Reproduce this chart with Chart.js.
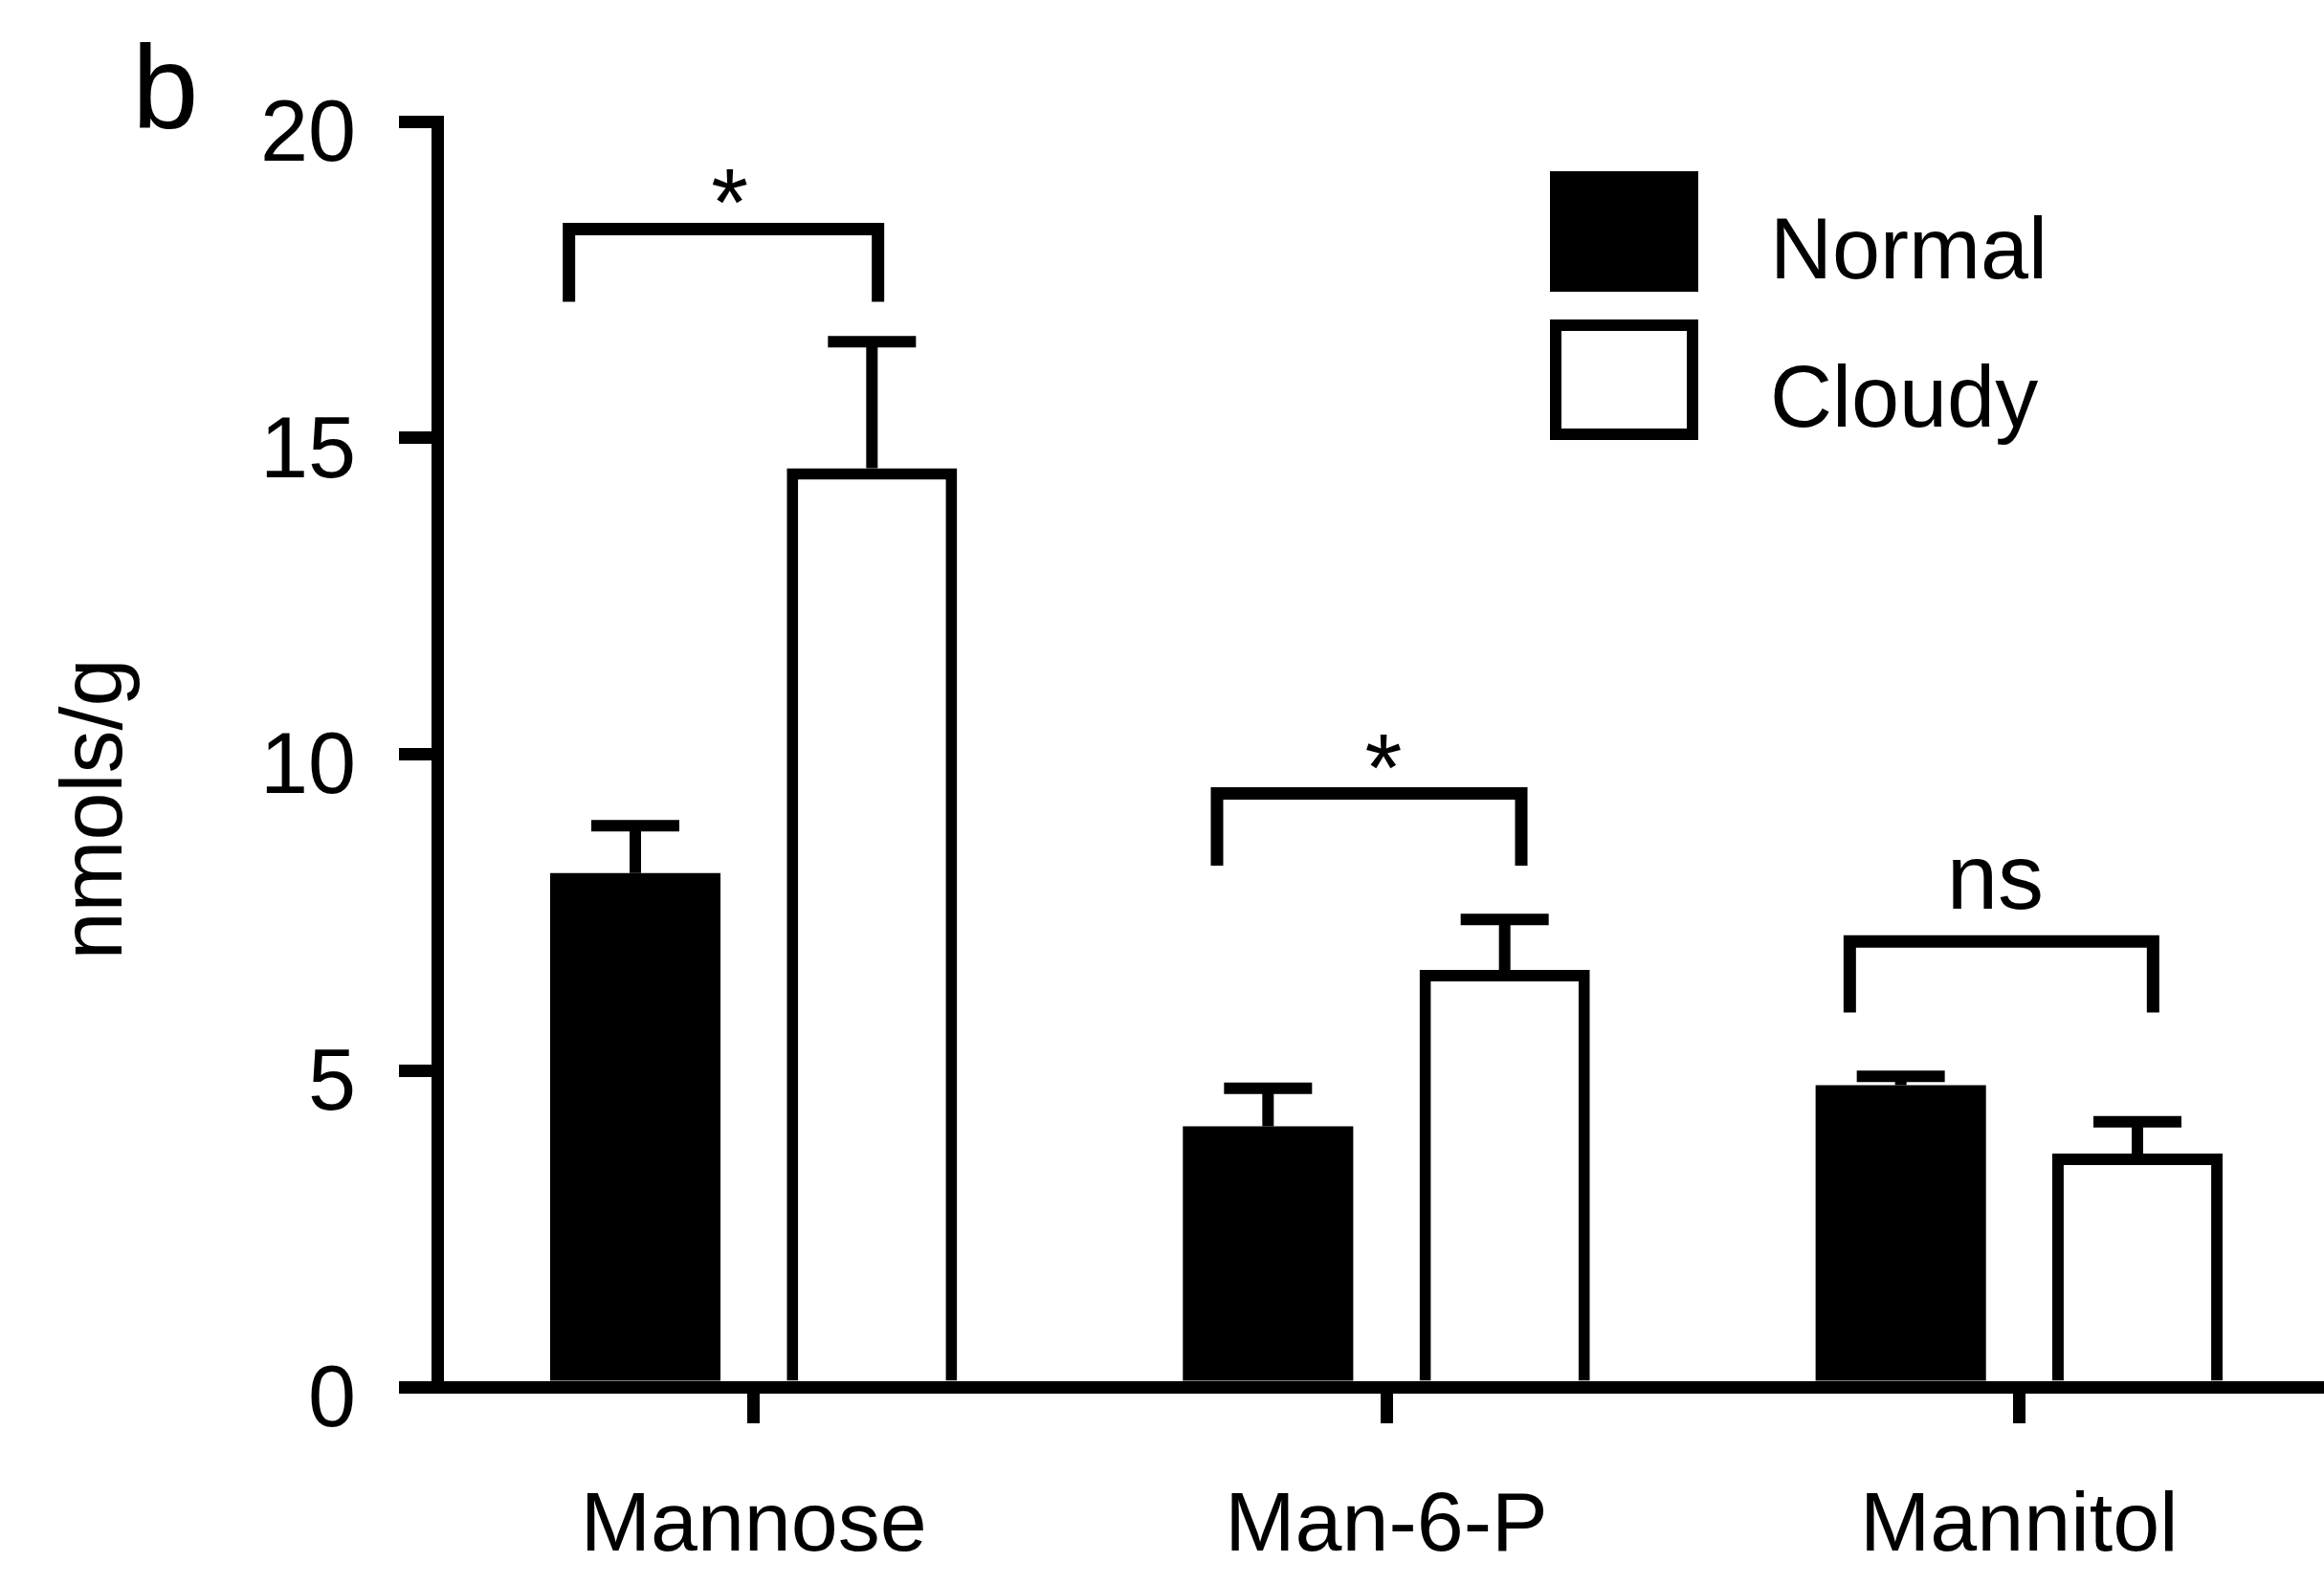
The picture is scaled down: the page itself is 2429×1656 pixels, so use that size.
<!DOCTYPE html>
<html>
<head>
<meta charset="utf-8">
<script src="https://cdn.jsdelivr.net/npm/chart.js@4.4.1/dist/chart.umd.min.js"></script>
<style>
  html, body { margin: 0; padding: 0; background: #ffffff; overflow: hidden; }
  canvas { display: block; }
</style>
</head>
<body>
<!-- the x axis runs off the right edge of the page, so the canvas is a little wider than the view -->
<canvas id="chart" width="2441" height="1656"></canvas>
<script>
// ---- data ----
const categories = ['Mannose', 'Man-6-P', 'Mannitol'];
const seriesNames = ['Normal', 'Cloudy'];
const normalMeans = [8.12, 4.12, 4.77];
const normalSem = [0.75, 0.60, 0.14];
const cloudyMeans = [14.52, 6.59, 3.69];
const cloudySem = [2.00, 0.80, 0.50];
const yTicks = [0, 5, 10, 15, 20];
const sigLabels = ['*', '*', 'ns'];
const sigBarLevel = [18.30, 9.38, 7.04];   // height of each bracket's crossbar
const sigLegEnd = [17.15, 8.24, 5.92];     // where each bracket's legs stop
const yTitle = 'nmols/g';
const panelLetter = 'b';

// ---- styling ----
const FONT = '"Liberation Sans", Arial, Helvetica, sans-serif';
const INK = '#000000';
const LINE = 13;
const BAR_LINE = 12;
const CAP_HALF = 46;
// bracket leg offsets (px) from each category centre, and label shift
const BRACKET_X = [[-193, 130], [-177, 141], [-177, 140]];
const SIG_TEXT_DX = [-25, -3, -25];

const errorBars = {
  id: 'errorBars',
  afterDatasetsDraw(chart) {
    const ctx = chart.ctx;
    const y = chart.scales.y;
    const sems = [normalSem, cloudySem];
    const means = [normalMeans, cloudyMeans];
    ctx.save();
    ctx.strokeStyle = INK;
    ctx.lineWidth = BAR_LINE;
    ctx.lineCap = 'butt';
    chart.data.datasets.forEach((ds, di) => {
      const meta = chart.getDatasetMeta(di);
      meta.data.forEach((bar, i) => {
        const top = y.getPixelForValue(means[di][i] + sems[di][i]);
        ctx.beginPath();
        ctx.moveTo(bar.x, bar.y);
        ctx.lineTo(bar.x, top);
        ctx.moveTo(bar.x - CAP_HALF, top);
        ctx.lineTo(bar.x + CAP_HALF, top);
        ctx.stroke();
      });
    });
    ctx.restore();
  }
};

const annotations = {
  id: 'annotations',
  afterDraw(chart) {
    const ctx = chart.ctx;
    const x = chart.scales.x;
    const y = chart.scales.y;
    ctx.save();
    ctx.fillStyle = INK;
    ctx.strokeStyle = INK;

    // significance brackets
    categories.forEach((c, i) => {
      const cx = x.getPixelForValue(i);
      const xl = cx + BRACKET_X[i][0];
      const xr = cx + BRACKET_X[i][1];
      const yb = y.getPixelForValue(sigBarLevel[i]);
      const ye = y.getPixelForValue(sigLegEnd[i]);
      ctx.lineWidth = LINE;
      ctx.lineJoin = 'miter';
      ctx.lineCap = 'butt';
      ctx.beginPath();
      ctx.moveTo(xl, ye);
      ctx.lineTo(xl, yb);
      ctx.lineTo(xr, yb);
      ctx.lineTo(xr, ye);
      ctx.stroke();
      const tx = cx + SIG_TEXT_DX[i];
      ctx.textAlign = 'center';
      ctx.textBaseline = 'alphabetic';
      if (sigLabels[i] === 'ns') {
        ctx.font = '96px ' + FONT;
        ctx.fillText(sigLabels[i], tx, yb - 34);
      } else {
        ctx.font = '100px ' + FONT;
        ctx.fillText(sigLabels[i], tx, yb + 7);
      }
    });

    // y-axis title
    ctx.save();
    ctx.translate(127, 846);
    ctx.rotate(-Math.PI / 2);
    ctx.font = '90px ' + FONT;
    ctx.textAlign = 'center';
    ctx.textBaseline = 'alphabetic';
    ctx.fillText(yTitle, 0, 0);
    ctx.restore();

    // panel letter
    ctx.font = '125px ' + FONT;
    ctx.textAlign = 'left';
    ctx.textBaseline = 'alphabetic';
    ctx.fillText(panelLetter, 138, 134);

    // legend
    const boxX = 1620, boxW = 155, boxH = 126;
    const rows = [179, 334];
    const baselines = [291, 446];
    chart.data.datasets.forEach((ds, di) => {
      const by = rows[di];
      ctx.fillStyle = ds.backgroundColor;
      ctx.fillRect(boxX, by, boxW, boxH);
      if (ds.borderWidth) {
        ctx.strokeStyle = ds.borderColor;
        ctx.lineWidth = ds.borderWidth;
        ctx.strokeRect(boxX + ds.borderWidth / 2, by + ds.borderWidth / 2,
                       boxW - ds.borderWidth, boxH - ds.borderWidth);
      }
      ctx.fillStyle = INK;
      ctx.font = '90px ' + FONT;
      ctx.textAlign = 'left';
      ctx.fillText(ds.label, 1850, baselines[di]);
    });
    ctx.restore();
  }
};

new Chart(document.getElementById('chart'), {
  type: 'bar',
  data: {
    labels: categories,
    datasets: [
      {
        label: seriesNames[0],
        data: normalMeans,
        backgroundColor: INK,
        borderColor: INK,
        borderWidth: 0
      },
      {
        label: seriesNames[1],
        data: cloudyMeans,
        backgroundColor: '#ffffff',
        borderColor: INK,
        borderWidth: BAR_LINE,
        borderSkipped: 'start'
      }
    ]
  },
  options: {
    responsive: false,
    animation: false,
    devicePixelRatio: 1,
    categoryPercentage: 0.748,
    barPercentage: 0.72,
    layout: { padding: { left: 0, right: 0, top: 127, bottom: 0 } },
    plugins: {
      legend: { display: false },
      tooltip: { enabled: false },
      title: { display: false }
    },
    scales: {
      x: {
        type: 'category',
        offset: true,
        afterFit(scale) { scale.height = 206; },
        border: { display: true, color: INK, width: LINE, z: 1 },
        grid: {
          offset: false,
          drawOnChartArea: false,
          drawTicks: true,
          tickLength: 38,
          tickWidth: LINE,
          tickColor: INK,
          color: INK,
          lineWidth: LINE
        },
        ticks: {
          color: INK,
          font: { family: FONT, size: 88 },
          padding: 56,
          maxRotation: 0,
          autoSkip: false
        }
      },
      y: {
        min: 0,
        max: 20,
        afterFit(scale) { scale.width = 457; },
        afterBuildTicks(scale) { scale.ticks = yTicks.map(v => ({ value: v })); },
        border: { display: true, color: INK, width: LINE, z: 1 },
        grid: {
          drawOnChartArea: false,
          drawTicks: true,
          tickLength: 40,
          tickWidth: LINE,
          tickColor: INK,
          color: INK,
          lineWidth: LINE
        },
        ticks: {
          color: INK,
          font: { family: FONT, size: 90 },
          padding: 45,
          labelOffset: 16
        }
      }
    }
  },
  plugins: [errorBars, annotations]
});
</script>
</body>
</html>
